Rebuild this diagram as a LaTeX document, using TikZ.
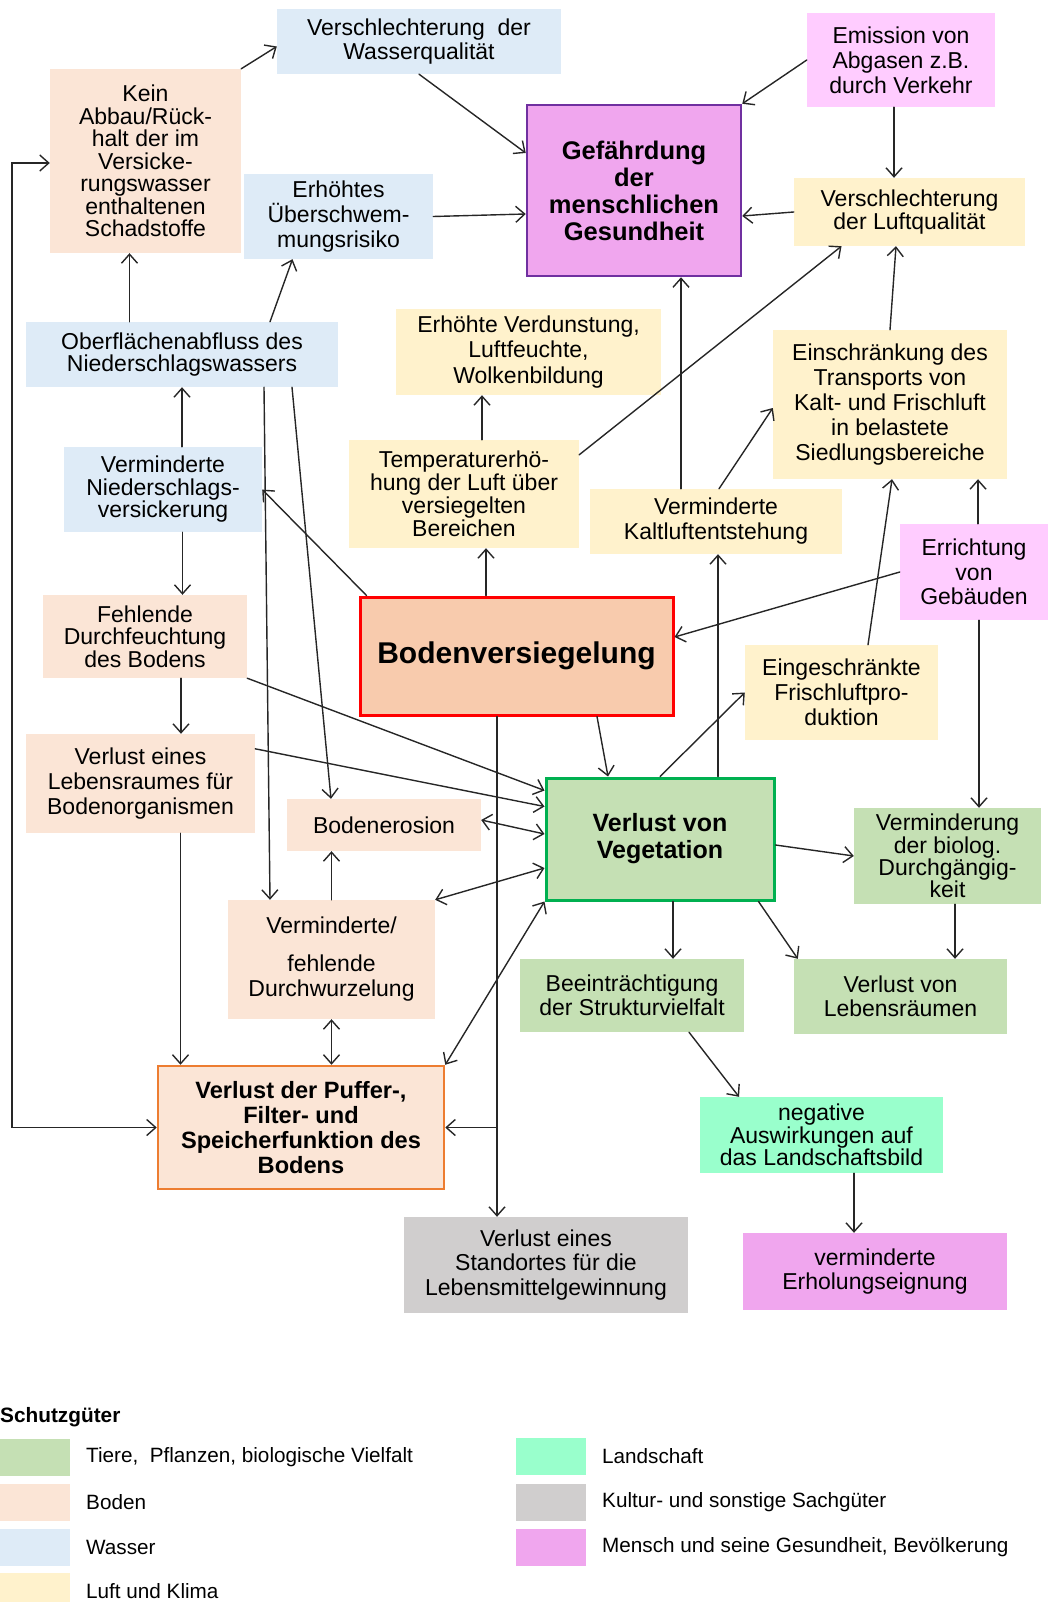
\documentclass[tikz,border=0pt]{standalone}
\usepackage{fontspec}
\setmainfont{Liberation Sans}
\usepackage{xcolor}
\usetikzlibrary{arrows.meta}
\definecolor{wasser}{HTML}{DEEBF7}
\definecolor{boden}{HTML}{FBE5D6}
\definecolor{luft}{HTML}{FFF2CC}
\definecolor{tiere}{HTML}{C5E0B4}
\definecolor{landschaft}{HTML}{99FFCC}
\definecolor{kultur}{HTML}{D0CECE}
\definecolor{mensch}{HTML}{F0A6EE}
\definecolor{rosa}{HTML}{FFCCFF}
\definecolor{versieg}{HTML}{F8CBAD}
\definecolor{lila}{HTML}{7030A0}
\definecolor{gruen}{HTML}{00B050}
\definecolor{orange}{HTML}{ED7D31}
\definecolor{line}{HTML}{262626}
\newcommand{\boxfont}[2]{\fontsize{#1}{#2}\selectfont}
\tikzset{
  box/.style={rectangle, inner sep=0pt, align=center, text=black, font=\boxfont{23}{24.5}},
  wasser/.style={box, fill=wasser},
  boden/.style={box, fill=boden},
  luft/.style={box, fill=luft},
  tiere/.style={box, fill=tiere},
  rosa/.style={box, fill=rosa},
  barb/.tip={Straight Barb[length=9pt,width=16pt]},
  arr/.style={draw=line, line width=1.4pt, line cap=round, -barb},
  dbl/.style={draw=line, line width=1.4pt, line cap=round, barb-barb},
  swatch/.style={rectangle, inner sep=0pt, minimum width=70, minimum height=37},
  legtext/.style={inner sep=0pt, anchor=west, font=\boxfont{20.7}{22}},
}
\begin{document}
\begin{tikzpicture}[x=1pt,y=-1pt]
\useasboundingbox (0,0) rectangle (1048,1602);

% top area
\node[wasser, minimum width=284, minimum height=65] (wq) at (419,41.5) {Verschlechterung\ \ der\\Wasserqualität};
\node[boden, minimum width=191, minimum height=184, font=\boxfont{23}{22.5}] (kein) at (145.5,161) {Kein\\Abbau/Rück-\\halt der im\\Versicke-\\rungswasser\\enthaltenen\\Schadstoffe};
\node[wasser, minimum width=189, minimum height=85, font=\boxfont{23}{25}] (ueber) at (338.5,216.5) {Erhöhtes\\Überschwem-\\mungsrisiko};
\node[box, fill=mensch, draw=lila, line width=2.5pt, minimum width=214, minimum height=171, font=\boxfont{25.5}{27}\bfseries] (gefahr) at (634,190.5) {Gefährdung\\der\\menschlichen\\Gesundheit};
\node[rosa, minimum width=188, minimum height=94, font=\boxfont{23}{25}] (emis) at (901,60) {Emission von\\Abgasen z.B.\\durch Verkehr};
\node[luft, minimum width=231, minimum height=68, font=\boxfont{23}{23.5}] (luft) at (909.5,212) {Verschlechterung\\der Luftqualität};

% second row
\node[wasser, minimum width=312, minimum height=65, font=\boxfont{23}{22}] (abfl) at (182,354.5) {Oberflächenabfluss des\\Niederschlagswassers};
\node[luft, minimum width=265, minimum height=86, font=\boxfont{23}{25.5}] (verd) at (528.5,352) {Erhöhte Verdunstung,\\Luftfeuchte,\\Wolkenbildung};
\node[luft, minimum width=234, minimum height=149, font=\boxfont{23}{25}] (einschr) at (890,404.5) {Einschränkung des\\Transports von\\Kalt- und Frischluft\\in belastete\\Siedlungsbereiche};
\node[wasser, minimum width=198, minimum height=85, font=\boxfont{23}{22.5}] (nversick) at (163,489.5) {Verminderte\\Niederschlags-\\versickerung};
\node[luft, minimum width=230, minimum height=108, font=\boxfont{23}{23}] (temp) at (464,494) {Temperaturerhö-\\hung der Luft über\\versiegelten\\Bereichen};
\node[luft, minimum width=252, minimum height=65, font=\boxfont{23}{25}] (kalt) at (716,521.5) {Verminderte\\Kaltluftentstehung};
\node[rosa, minimum width=148, minimum height=96] (errich) at (974,572) {Errichtung\\von\\Gebäuden};

% middle
\node[boden, minimum width=204, minimum height=83, font=\boxfont{23}{22.5}] (fehl) at (145,636.5) {Fehlende\\Durchfeuchtung\\des Bodens};
\node[box, fill=versieg, draw=red, line width=3pt, minimum width=313, minimum height=118, font=\boxfont{30}{32}\bfseries] (versieg) at (516.5,656) {Bodenversiegelung};
\node[luft, minimum width=193, minimum height=95, font=\boxfont{23}{25}] (frisch) at (841.5,692.5) {Eingeschränkte\\Frischluftpro-\\duktion};
\node[boden, minimum width=229, minimum height=99, font=\boxfont{23}{25}] (lebraum) at (140.5,783.5) {Verlust eines\\Lebensraumes für\\Bodenorganismen};
\node[box, fill=tiere, draw=gruen, line width=3pt, minimum width=228, minimum height=122, font=\boxfont{25}{27}\bfseries] (veg) at (660,839) {Verlust von\\Vegetation};
\node[boden, minimum width=194, minimum height=52] (eros) at (384,825) {Bodenerosion};
\node[tiere, minimum width=187, minimum height=96, font=\boxfont{23}{19.5}] (durchg) at (947.5,856) {Verminderung\\der biolog.\\Durchgängig-\\keit};

% lower area
\node[boden, minimum width=207, minimum height=119, font=\boxfont{23}{25}] (wurz) at (331.5,959.5) {Verminderte/\\[13pt]fehlende\\Durchwurzelung};
\node[tiere, minimum width=224, minimum height=73, font=\boxfont{23}{24}] (struktur) at (632,995.5) {Beeinträchtigung\\der Strukturvielfalt};
\node[tiere, minimum width=213, minimum height=75, font=\boxfont{23}{24}] (lebr2) at (900.5,996.5) {Verlust von\\Lebensräumen};
\node[box, fill=boden, draw=orange, line width=2.5pt, minimum width=286, minimum height=123, font=\boxfont{23.6}{25}\bfseries] (puffer) at (301,1127.5) {Verlust der Puffer-,\\Filter- und\\Speicherfunktion des\\Bodens};
\node[box, fill=landschaft, minimum width=243, minimum height=76, font=\boxfont{23}{20}] (landsch) at (821.5,1135) {negative\\Auswirkungen auf\\das Landschaftsbild};
\node[box, fill=kultur, minimum width=284, minimum height=96] (standort) at (546,1265) {Verlust eines\\Standortes für die\\Lebensmittelgewinnung};
\node[box, fill=mensch, minimum width=264, minimum height=77, font=\boxfont{23}{24}] (erhol) at (875,1271.5) {verminderte\\Erholungseignung};

% connectors, top
\draw[arr] (kein.north east) -- ([yshift=-5pt]wq.west);
\draw[arr] (wq.south) -- ([yshift=37.5pt]gefahr.west);
\draw[arr] (ueber.east) -- ([yshift=-23.5pt]gefahr.west);
\draw[arr] (emis.west) -- (gefahr.north east);
\draw[arr] ([xshift=-7pt]emis.south) -- ([xshift=-7pt]emis.south |- luft.north);
\draw[arr] (luft.west) -- ([yshift=-25.5pt]gefahr.east);
\draw[arr] ([yshift=-15pt]temp.north east) -- ([xshift=-68pt]luft.south);
\draw[arr] ([xshift=-35pt]kalt.north) -- ([xshift=-35pt]kalt.north |- gefahr.south);
\draw[arr] (einschr.north) -- ([xshift=-13.5pt]luft.south);

% connectors, water side
\draw[arr] ([xshift=-52.5pt]abfl.north) -- ([xshift=-52.5pt]abfl.north |- kein.south);
\draw[arr] ([xshift=88pt]abfl.north) -- ([xshift=-46pt]ueber.south);
\draw[arr] (nversick.north -| abfl.south) -- (abfl.south);
\draw[arr] ([xshift=19.5pt]nversick.south) -- ([xshift=19.5pt]nversick.south |- fehl.north);
\draw[arr] ([xshift=36pt]fehl.south) -- ([xshift=36pt]fehl.south |- lebraum.north);
\draw[arr] ([xshift=40pt]lebraum.south) -- ([xshift=40pt]lebraum.south |- puffer.north);
\draw[arr] ([xshift=82pt]abfl.south) -- ([xshift=-61.5pt]wurz.north);
\draw[arr] ([xshift=110pt]abfl.south) -- ([xshift=-53pt]eros.north);
\draw[dbl] ([yshift=-2pt]kein.west) -- ++(-38,0) |- (puffer.west);

% connectors from Bodenversiegelung
\draw[arr] ([xshift=8pt]versieg.north west) -- (nversick.east);
\draw[arr] ([xshift=-30.5pt]versieg.north) -- ([xshift=-30.5pt]versieg.north |- temp.south);
\draw[arr] ([xshift=18pt]temp.north) -- ([xshift=18pt]temp.north |- verd.south);
\draw[arr] ([xshift=80.5pt]versieg.south) -- ([xshift=-52pt]veg.north);
\draw[arr] ([xshift=-19.5pt]versieg.south) -- ([xshift=-19.5pt]versieg.south |- standort.north);
\draw[arr] ([xshift=-19.5pt]versieg.south |- puffer.east) -- (puffer.east);

% connectors into Verlust von Vegetation
\draw[arr] (fehl.south east) -- ([yshift=-14pt]veg.north west);
\draw[arr] ([yshift=-15pt]lebraum.north east) -- ([yshift=-30pt]veg.north west);
\draw[dbl] ([yshift=5pt]eros.east) -- ([yshift=5pt]veg.west);
\draw[dbl] (wurz.north east) -- ([yshift=-29pt]veg.west);
\draw[dbl] (puffer.north east) -- (veg.south west);
\draw[arr] (wurz.north) -- (wurz.north |- eros.south);
\draw[dbl] (wurz.south) -- (wurz.south |- puffer.north);

% connectors, air side
\draw[arr] (veg.north) -- (frisch.west);
\draw[arr] ([xshift=58pt]veg.north) -- ([xshift=58pt]veg.north |- kalt.south);
\draw[arr] ([xshift=3pt]kalt.north) -- ([yshift=-3.5pt]einschr.west);
\draw[arr] ([xshift=26.5pt]frisch.north) -- ([xshift=2pt]einschr.south);
\draw[arr] ([xshift=4pt]errich.north) -- ([xshift=4pt]errich.north |- einschr.south);
\draw[arr] (errich.west) -- ([yshift=19pt]versieg.east);
\draw[arr] ([xshift=5pt]errich.south) -- ([xshift=5pt]errich.south |- durchg.north);

% connectors, vegetation side
\draw[arr] ([yshift=-6pt]veg.east) -- (durchg.west);
\draw[arr] ([xshift=7.5pt]durchg.south) -- ([xshift=7.5pt]durchg.south |- lebr2.north);
\draw[arr] ([xshift=13pt]veg.south) -- ([xshift=13pt]veg.south |- struktur.north);
\draw[arr] ([xshift=-17pt]veg.south east) -- ([xshift=4pt]lebr2.north west);
\draw[arr] ([xshift=57pt]struktur.south) -- ([xshift=-82.5pt]landsch.north);
\draw[arr] ([xshift=32.5pt]landsch.south) -- ([xshift=32.5pt]landsch.south |- erhol.north);

% legend
\node[inner sep=0pt, anchor=west, font=\boxfont{20.8}{22}\bfseries] (leghead) at (0,1417) {Schutzgüter};
\foreach \n/\yy/\c/\t in {a/1457.5/tiere/{Tiere,\ \ Pflanzen, biologische Vielfalt}, b/1502/boden/Boden, c/1547/wasser/Wasser, d/1591.5/luft/Luft und Klima}{
  \node[swatch, fill=\c] (sw\n) at (35,\yy) {};
  \node[legtext] (lt\n) at (86,\yy) {\t};
}
\foreach \n/\yy/\c/\t in {e/1456.5/landschaft/Landschaft, f/1502/kultur/Kultur- und sonstige Sachgüter, g/1547/mensch/{Mensch und seine Gesundheit, Bevölkerung}}{
  \node[swatch, fill=\c] (sw\n) at (551,\yy) {};
  \node[legtext] (lt\n) at (602,\yy) {\t};
}
\end{tikzpicture}
\end{document}
